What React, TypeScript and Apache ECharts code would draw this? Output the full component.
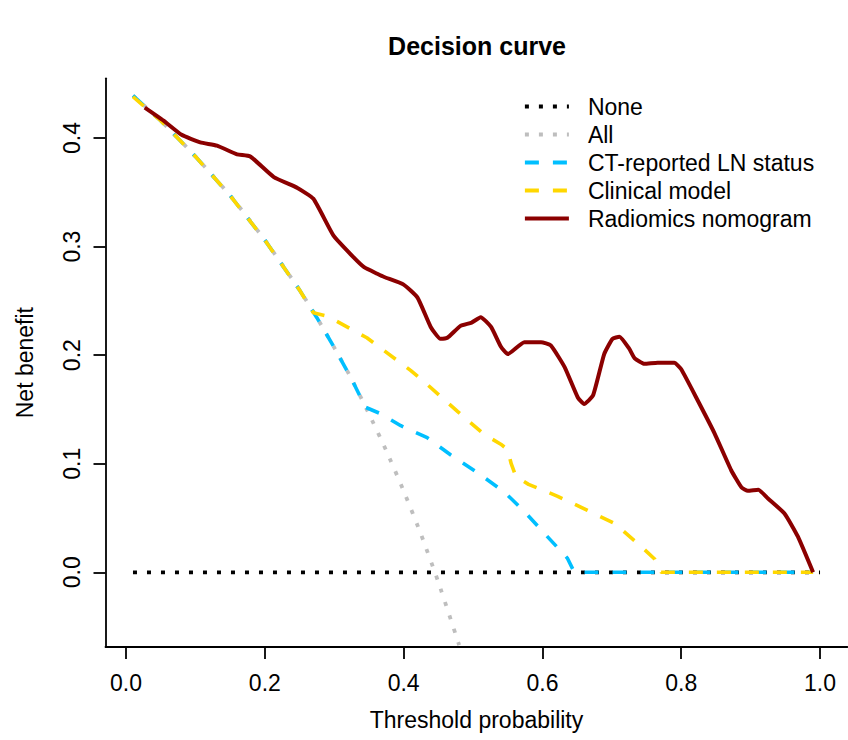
import React, { useEffect, useRef } from "react";
import * as echarts from "echarts";

// ---------- data ----------
const xTickValues = [0, 0.2, 0.4, 0.6, 0.8, 1.0];
const yTickValues = [0, 0.1, 0.2, 0.3, 0.4];

const noneX = [0.01, 1.0];
const noneY = [0, 0];

const allX = [0.01, 0.05, 0.1, 0.15, 0.2, 0.25, 0.275, 0.3, 0.325, 0.35, 0.375, 0.4, 0.425, 0.45, 0.48];
const allY = [0.439, 0.416, 0.383, 0.347, 0.306, 0.26, 0.2345, 0.207, 0.178, 0.146, 0.112, 0.075, 0.035, -0.009, -0.067];

const ctX = [0.01, 0.05, 0.1, 0.15, 0.2, 0.25, 0.275, 0.3, 0.325, 0.345, 0.367, 0.396, 0.434, 0.468, 0.506, 0.545, 0.574, 0.604, 0.636, 0.646, 0.99];
const ctY = [0.439, 0.416, 0.383, 0.347, 0.306, 0.26, 0.2345, 0.207, 0.178, 0.152, 0.146, 0.135, 0.124, 0.108, 0.092, 0.074, 0.056, 0.035, 0.013, 0.0, 0.0];

const clinX = [0.01, 0.05, 0.1, 0.15, 0.2, 0.25, 0.27, 0.29, 0.347, 0.41, 0.434, 0.478, 0.516, 0.54, 0.55, 0.555, 0.562, 0.58, 0.603, 0.622, 0.665, 0.704, 0.742, 0.762, 0.771, 0.99];
const clinY = [0.438, 0.416, 0.383, 0.347, 0.306, 0.26, 0.239, 0.236, 0.216, 0.186, 0.173, 0.148, 0.127, 0.118, 0.113, 0.1, 0.088, 0.081, 0.075, 0.07, 0.057, 0.045, 0.024, 0.012, 0.0, 0.0];

const radX = [0.027, 0.054, 0.08, 0.107, 0.131, 0.16, 0.179, 0.213, 0.247, 0.27, 0.299, 0.328, 0.343, 0.362, 0.372, 0.4, 0.42, 0.439, 0.453, 0.463, 0.482, 0.498, 0.511, 0.526, 0.54, 0.55, 0.574, 0.598, 0.612, 0.632, 0.651, 0.66, 0.673, 0.689, 0.701, 0.711, 0.725, 0.733, 0.747, 0.766, 0.79, 0.8, 0.824, 0.848, 0.872, 0.887, 0.896, 0.911, 0.925, 0.949, 0.968, 0.99];
const radY = [0.428, 0.416, 0.403, 0.396, 0.393, 0.385, 0.383, 0.364, 0.354, 0.344, 0.31, 0.29, 0.281, 0.275, 0.272, 0.265, 0.253, 0.226, 0.215, 0.216, 0.227, 0.23, 0.235, 0.226, 0.208, 0.201, 0.212, 0.212, 0.209, 0.189, 0.161, 0.155, 0.163, 0.201, 0.215, 0.217, 0.206, 0.197, 0.192, 0.193, 0.193, 0.187, 0.158, 0.128, 0.094, 0.078, 0.075, 0.076, 0.068, 0.054, 0.033, 0.0];

const seriesNames = ["None", "All", "CT-reported LN status", "Clinical model", "Radiomics nomogram"];
const seriesColors = ["#000000", "#BEBEBE", "#00BFFF", "#FFD700", "#8B0000"];

const zip = (xs: number[], ys: number[]) => xs.map((x, i) => [x, ys[i]]);

const FONT = "Liberation Sans, Arial, sans-serif";
const FS = 23;

export default function App() {
  const ref = useRef<HTMLDivElement>(null);

  useEffect(() => {
    document.body.style.margin = "0";
    if (!ref.current) return;
    const chart = echarts.init(ref.current, undefined, { renderer: "svg" });

    const dotted = [4, 10];
    const dashed = [14, 14];

    const mk = (i: number, xs: number[], ys: number[], type: any, width: number, smooth: number) => ({
      name: seriesNames[i],
      type: "line",
      data: zip(xs, ys),
      symbol: "none",
      showSymbol: false,
      smooth,
      z: i + 1,
      color: seriesColors[i],
      itemStyle: { color: seriesColors[i] },
      lineStyle: { color: seriesColors[i], width, type, cap: "butt" },
    });

    const option: any = {
      animation: false,
      backgroundColor: "#ffffff",
      title: {
        text: "Decision curve",
        left: 477,
        textAlign: "center",
        top: 33,
        padding: 0,
        textStyle: { fontFamily: FONT, fontSize: 25, fontWeight: "bold", color: "#000" },
      },
      legend: {
        data: seriesNames,
        orient: "vertical",
        left: 523,
        top: 95,
        itemWidth: 44,
        itemHeight: 14,
        itemGap: 5,
        selectedMode: false,
        padding: 0,
        itemStyle: { opacity: 0, borderWidth: 0 },
        lineStyle: { width: 3.8 },
        textStyle: { fontFamily: FONT, fontSize: FS, color: "#000", padding: [0, 0, 0, 14] },
      },
      grid: { left: 105.5, right: 0.5, top: 78.3, bottom: 93, containLabel: false, outerBoundsMode: "none" },
      xAxis: {
        type: "value",
        min: -0.0296,
        max: 1.0396,
        name: "Threshold probability",
        nameLocation: "middle",
        nameGap: 61,
        nameTextStyle: { fontFamily: FONT, fontSize: FS, color: "#000" },
        axisLine: { onZero: false, lineStyle: { color: "#000", width: 1.8 } },
        axisTick: { show: true, length: 12, customValues: xTickValues, lineStyle: { color: "#000", width: 1.8 } },
        axisLabel: {
          customValues: xTickValues,
          formatter: (v: number) => v.toFixed(1),
          fontFamily: FONT,
          fontSize: FS,
          color: "#000",
          margin: 24,
        },
        splitLine: { show: false },
      },
      yAxis: {
        type: "value",
        min: -0.0688,
        max: 0.455,
        name: "Net benefit",
        nameLocation: "middle",
        nameGap: 69,
        nameRotate: 90,
        nameTextStyle: { fontFamily: FONT, fontSize: FS, color: "#000" },
        axisLine: { show: true, onZero: false, lineStyle: { color: "#000", width: 1.8 } },
        axisTick: { show: true, length: 12, customValues: yTickValues, lineStyle: { color: "#000", width: 1.8 } },
        axisLabel: {
          customValues: yTickValues,
          formatter: (v: number) => v.toFixed(1),
          rotate: 90,
          align: "center",
          verticalAlign: "bottom",
          fontFamily: FONT,
          fontSize: FS,
          color: "#000",
          margin: 22,
        },
        splitLine: { show: false },
      },
      series: [
        mk(0, noneX, noneY, dotted, 3.8, 0),
        mk(1, allX, allY, dotted, 3.8, 0.2),
        mk(2, ctX, ctY, dashed, 3.6, 0),
        mk(3, clinX, clinY, dashed, 3.6, 0),
        mk(4, radX, radY, "solid", 4, 0.15),
      ],
    };

    chart.setOption(option);
    return () => chart.dispose();
  }, []);

  return <div ref={ref} style={{ width: 848, height: 740 }} />;
}
